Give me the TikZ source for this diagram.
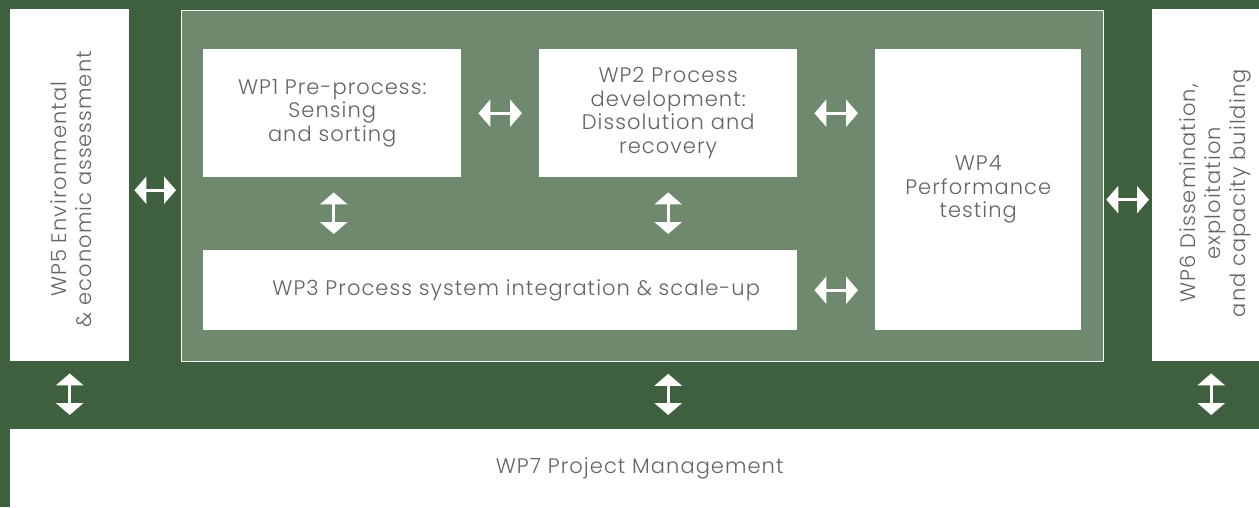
\documentclass[tikz,border=0pt]{standalone}
\usepackage{fontspec}
\setmainfont{Poppins}[UprightFont=* Light, LetterSpace=5]
\usetikzlibrary{arrows.meta,calc}
\definecolor{darkg}{RGB}{63,96,62}
\definecolor{panelg}{RGB}{110,137,110}
\definecolor{txtg}{RGB}{100,100,100}
\tikzset{
  wpbox/.style={draw=none, fill=white, anchor=north west, inner sep=0pt, align=center,
    text=txtg, font=\fontsize{21}{23.5}\selectfont},
  wptext/.style={text=txtg, align=center, font=\fontsize{21}{25}\selectfont},
  dbl/.style={draw=white, line width=3pt,
    {Triangle[width=27pt,length=12pt]}-{Triangle[width=27pt,length=12pt]}},
}
\begin{document}
\begin{tikzpicture}[x=1pt,y=-1pt]
\fill[darkg] (0,0) rectangle (1259,507);
\useasboundingbox (0,0) rectangle (1259,507);
% inner panel
\node[draw=white, fill=panelg, line width=1.3pt, anchor=north west, inner sep=0pt,
  minimum width=922pt, minimum height=351pt] (panel) at (181,9.5) {};
% side and bottom boxes
\node[wpbox, minimum width=119pt, minimum height=352pt] (wp5) at (10,9) {};
\node[wptext, rotate=90] (wp5t) at ([xshift=2pt,yshift=-4pt]wp5.center) {WP5 Environmental\\\& economic assessment};
\node[wpbox, minimum width=124pt, minimum height=352pt] (wp6) at (1152,9) {};
\node[wptext, rotate=90] (wp6t) at ([xshift=1pt,yshift=-8pt]wp6.center) {WP6 Dissemination,\\exploitation\\and capacity building};
\node[wpbox, minimum width=1259pt, minimum height=78pt] (wp7) at (10,429) {WP7 Project Management};
% inner boxes
\node[wpbox, minimum width=258pt, minimum height=128pt] (wp1) at (203,49) {WP1 Pre-process:\\Sensing\\and sorting};
\node[wpbox, minimum width=258pt, minimum height=128pt] (wp2) at (539,49) {WP2 Process\\development:\\Dissolution and\\recovery};
\node[wpbox, minimum width=206pt, minimum height=281pt] (wp4) at (875,49) {WP4\\Performance\\testing};
\node[wpbox, minimum width=594pt, minimum height=80pt] (wp3) at (203,250) {\hspace*{32pt}WP3 Process system integration \& scale-up};
% arrows
\draw[dbl, shorten <=17pt, shorten >=17pt] (wp1.east) -- (wp1.east -| wp2.west);
\draw[dbl, shorten <=17pt, shorten >=17pt] (wp2.east) -- (wp2.east -| wp4.west);
\draw[dbl, shorten <=17pt, shorten >=17pt] (wp3.east) -- (wp3.east -| wp4.west);
\draw[dbl, shorten <=15pt, shorten >=16pt] ([xshift=1.5pt]wp1.south) -- ([xshift=1.5pt]wp1.south |- wp3.north);
\draw[dbl, shorten <=15pt, shorten >=16pt] (wp2.south) -- (wp2.south |- wp3.north);
\draw[dbl, shorten <=5pt, shorten >=5pt] ([yshift=-5pt]wp5.east) -- ([yshift=-5pt]wp5.east -| panel.west);
\draw[dbl, shorten <=2pt, shorten >=3pt] ([yshift=-14pt]panel.east) -- ([yshift=-14pt]panel.east -| wp6.west);
\draw[dbl, shorten <=12pt, shorten >=14pt] (wp5.south) -- (wp5.south |- wp7.north);
\draw[dbl, shorten <=12pt, shorten >=14pt] (wp2.south |- panel.south) -- (wp2.south |- wp7.north);
\draw[dbl, shorten <=12pt, shorten >=14pt] ([xshift=-3pt]wp6.south) -- ([xshift=-3pt]wp6.south |- wp7.north);
\end{tikzpicture}
\end{document}
